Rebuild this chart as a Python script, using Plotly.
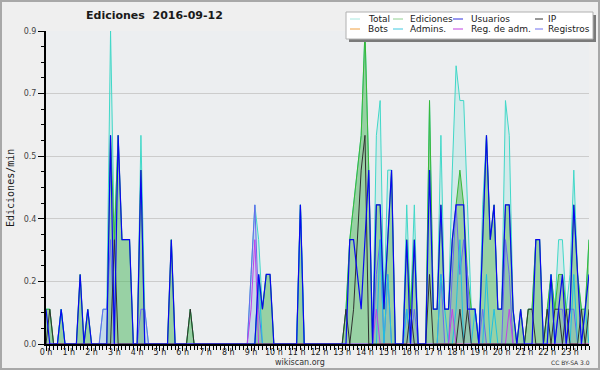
import plotly.graph_objects as go

# 10-minute bins (index = 6*hour + tenth), values in edits/min
total = [
    .1, .1, 0, 0, .1, 0,
    0, 0, 0, .2, 0, .1,
    0, 0, 0, .1, .1, .9,
    .3, .6, .3, .3, .3, 0,
    0, .6, .1, 0, 0, 0,
    0, 0, 0, .3, 0, 0,
    0, 0, .1, 0, 0, 0,
    0, 0, 0, 0, 0, 0,
    0, 0, 0, 0, 0, 0,
    .2, .4, .3, .1, .2, .2,
    0, 0, 0, 0, 0, 0,
    0, .4, 0, 0, 0, 0,
    0, 0, 0, 0, 0, 0,
    0, .1, .3, .4, .5, .6,
    .9, .5, 0, .6, .7, .1,
    .5, .5, 0, 0, 0, .4,
    .1, .4, 0, 0, 0, .7,
    .1, .1, .6, .1, .1, .5,
    .8, .7, .7, .4, .1, .1,
    0, .4, .6, .3, .4, .1,
    .1, .7, .6, .1, 0, .1,
    0, .1, .1, .3, .3, 0,
    .1, .2, .1, .3, .3, .1,
    .2, .5, .2, .1, .1, .3,
]
ediciones = [
    .1, .1, 0, 0, .1, 0,
    0, 0, 0, .2, 0, .1,
    0, 0, 0, 0, 0, .6,
    .3, .6, .3, .3, .3, 0,
    0, .5, 0, 0, 0, 0,
    0, 0, 0, .3, 0, 0,
    0, 0, .1, 0, 0, 0,
    0, 0, 0, 0, 0, 0,
    0, 0, 0, 0, 0, 0,
    0, 0, .2, .1, .2, .2,
    0, 0, 0, 0, 0, 0,
    0, .4, 0, 0, 0, 0,
    0, 0, 0, 0, 0, 0,
    0, .1, .3, .4, .5, .6,
    .9, .5, 0, .4, .4, .1,
    .3, .5, 0, 0, 0, .3,
    .1, .3, 0, 0, 0, .7,
    .1, .1, .4, .1, .1, .3,
    .4, .5, .4, .2, .1, .1,
    0, .3, .6, .3, .4, .1,
    .1, .4, .4, .1, 0, .1,
    0, .1, .1, .3, .3, 0,
    .1, .2, .1, .2, .2, .1,
    .1, .4, .2, .1, .1, .3,
]
usuarios = [
    .1, 0, 0, 0, .1, 0,
    0, 0, 0, .2, 0, .1,
    0, 0, 0, 0, 0, .6,
    0, .6, .3, .3, .3, 0,
    0, .5, 0, 0, 0, 0,
    0, 0, 0, .3, 0, 0,
    0, 0, 0, 0, 0, 0,
    0, 0, 0, 0, 0, 0,
    0, 0, 0, 0, 0, 0,
    0, 0, .2, .1, .2, .2,
    0, 0, 0, 0, 0, 0,
    0, .4, 0, 0, 0, 0,
    0, 0, 0, 0, 0, 0,
    0, 0, .3, .3, .2, .1,
    .3, .5, 0, .4, .4, .1,
    .3, .5, 0, 0, 0, .3,
    0, .3, 0, 0, 0, .5,
    .1, .1, .4, .1, .1, .3,
    .4, .4, .4, .1, .1, .1,
    0, .3, .6, .3, .4, .1,
    .1, .4, .4, .1, 0, .1,
    0, 0, 0, .3, .3, 0,
    0, .2, 0, .1, .2, 0,
    .1, .4, .2, 0, .1, .2,
]
ip = [
    0, .1, 0, 0, 0, 0,
    0, 0, 0, 0, 0, 0,
    0, 0, 0, 0, 0, 0,
    .3, 0, 0, 0, 0, 0,
    0, 0, 0, 0, 0, 0,
    0, 0, 0, 0, 0, 0,
    0, 0, .1, 0, 0, 0,
    0, 0, 0, 0, 0, 0,
    0, 0, 0, 0, 0, 0,
    0, 0, 0, 0, 0, 0,
    0, 0, 0, 0, 0, 0,
    0, 0, 0, 0, 0, 0,
    0, 0, 0, 0, 0, 0,
    0, .1, 0, .1, .3, .5,
    .6, 0, 0, 0, 0, 0,
    0, 0, 0, 0, 0, 0,
    .1, 0, 0, 0, 0, .2,
    0, 0, 0, 0, 0, 0,
    0, .1, 0, .1, 0, 0,
    0, 0, 0, 0, 0, 0,
    0, 0, 0, 0, 0, 0,
    0, .1, .1, 0, 0, 0,
    .1, 0, .1, .1, 0, .1,
    0, 0, 0, .1, 0, .1,
]
bots = [0] * 144
admins = [
    0, 0, 0, 0, .1, 0,
    0, 0, 0, 0, 0, 0,
    0, 0, 0, 0, 0, 0,
    0, 0, 0, 0, 0, 0,
    0, 0, 0, 0, 0, 0,
    0, 0, 0, 0, 0, 0,
    0, 0, 0, 0, 0, 0,
    0, 0, 0, 0, 0, 0,
    0, 0, 0, 0, 0, 0,
    0, 0, .2, 0, 0, 0,
    0, 0, 0, 0, 0, 0,
    0, .4, 0, 0, 0, 0,
    0, 0, 0, 0, 0, 0,
    0, 0, 0, 0, 0, 0,
    0, 0, 0, 0, .3, 0,
    .2, 0, 0, 0, 0, .1,
    0, 0, 0, 0, 0, 0,
    0, 0, .2, .1, 0, 0,
    .1, .3, 0, 0, 0, .1,
    0, 0, .2, 0, .1, 0,
    0, 0, 0, 0, 0, 0,
    0, 0, 0, 0, 0, 0,
    0, .2, 0, 0, 0, 0,
    0, .2, 0, 0, .1, 0,
]
reg_adm = [
    0, 0, 0, 0, 0, 0,
    0, 0, 0, 0, 0, 0,
    0, 0, 0, 0, 0, 0,
    0, 0, 0, 0, 0, 0,
    0, 0, 0, 0, 0, 0,
    0, 0, 0, 0, 0, 0,
    0, 0, 0, 0, 0, 0,
    0, 0, 0, 0, 0, 0,
    0, 0, 0, 0, 0, 0,
    .1, .3, 0, 0, 0, 0,
    0, 0, 0, 0, 0, 0,
    0, 0, 0, 0, 0, 0,
    0, 0, 0, 0, 0, 0,
    0, 0, 0, 0, 0, 0,
    0, 0, 0, .1, 0, 0,
    0, 0, 0, 0, 0, 0,
    0, 0, 0, 0, 0, 0,
    0, 0, 0, 0, 0, .1,
    0, 0, 0, 0, 0, 0,
    0, 0, 0, 0, 0, 0,
    0, 0, .1, 0, 0, 0,
    0, 0, 0, 0, 0, 0,
    0, 0, 0, 0, 0, 0,
    0, 0, 0, 0, 0, 0,
]
registros = [
    0, 0, 0, 0, 0, 0,
    0, 0, 0, 0, 0, 0,
    0, 0, 0, .1, .1, .3,
    0, 0, 0, 0, 0, 0,
    0, .1, .1, 0, 0, 0,
    0, 0, 0, 0, 0, 0,
    0, 0, 0, 0, 0, 0,
    0, 0, 0, 0, 0, 0,
    0, 0, 0, 0, 0, 0,
    .2, .4, .1, 0, 0, 0,
    0, 0, 0, 0, 0, 0,
    0, 0, 0, 0, 0, 0,
    0, 0, 0, 0, 0, 0,
    0, 0, 0, 0, 0, 0,
    0, 0, 0, .2, .3, 0,
    .2, 0, 0, 0, 0, .1,
    0, .1, 0, 0, 0, 0,
    0, 0, .2, 0, 0, .2,
    .4, .2, .3, .2, 0, 0,
    0, .1, 0, 0, 0, 0,
    0, .3, .2, 0, 0, 0,
    0, 0, 0, 0, 0, 0,
    0, 0, 0, .1, .1, 0,
    .1, .1, 0, 0, 0, 0,
]
hours = [i / 6 for i in range(144)]
hour_ticks = list(range(24))
hour_labels = [f"{h} h" for h in hour_ticks]
y_ticks = [0, 0.18, 0.36, 0.54, 0.72, 0.9]
y_labels = ["0.0", "0.2", "0.4", "0.5", "0.7", "0.9"]

legend_names = ["Total", "Ediciones", "Usuarios", "IP", "Bots", "Admins.", "Reg. de adm.", "Registros"]
legend_colors = ["#a8e8e0", "#90d090", "#3030e0", "#303030", "#f0a040", "#40c8e0", "#c040e0", "#7070f0"]

fig = go.Figure()
fig.add_trace(go.Scatter(x=hours, y=total, mode="lines", fill="tozeroy",
                         fillcolor="rgba(64,216,200,0.14)", line=dict(color="#40d8c8", width=1), name="Total"))
fig.add_trace(go.Scatter(x=hours, y=ediciones, mode="lines", fill="tozeroy",
                         fillcolor="rgba(80,180,80,0.45)", line=dict(color="#38b838", width=1), name="Ediciones"))
fig.add_trace(go.Scatter(x=hours, y=registros, mode="lines", fill="tozeroy",
                         fillcolor="rgba(100,110,240,0.12)", line=dict(color="#6868f0", width=1), name="Registros"))
fig.add_trace(go.Scatter(x=hours, y=bots, mode="lines", line=dict(color="#f0a040", width=1), name="Bots"))
fig.add_trace(go.Scatter(x=hours, y=admins, mode="lines", line=dict(color="#20c0e0", width=1), name="Admins."))
fig.add_trace(go.Scatter(x=hours, y=reg_adm, mode="lines", line=dict(color="#c040e8", width=1), name="Reg. de adm."))
fig.add_trace(go.Scatter(x=hours, y=ip, mode="lines", line=dict(color="#303030", width=1), name="IP"))
fig.add_trace(go.Scatter(x=hours, y=usuarios, mode="lines", line=dict(color="#0808f0", width=1.2), name="Usuarios"))

X0, X1, YT, YB = 46, 589, 31, 344
def px(x):
    return (x - X0) / (X1 - X0)
def py(y):
    return (YB - y) / (YB - YT)

shapes = [
    dict(type="rect", xref="paper", yref="paper", x0=px(1), x1=px(599), y0=py(369), y1=py(1),
         line=dict(color="#a8a8a8", width=2), layer="below"),
    dict(type="rect", xref="paper", yref="paper", x0=px(349), x1=px(596), y0=py(42), y1=py(15),
         fillcolor="#7a7a7a", line=dict(width=0)),
    dict(type="rect", xref="paper", yref="paper", x0=px(346), x1=px(593), y0=py(39), y1=py(12),
         fillcolor="white", line=dict(color="#b0b0b0", width=1)),
]
annotations = [
    dict(text="<b>Ediciones\u00a0 2016-09-12</b>", x=px(154), y=py(16), xref="paper", yref="paper",
         showarrow=False, font=dict(family="DejaVu Sans", size=11, color="#1a1a1a"), xanchor="center", yanchor="middle"),
    dict(text="Ediciones/min", x=px(10), y=py(188), xref="paper", yref="paper", textangle=-90,
         showarrow=False, font=dict(family="DejaVu Sans Mono", size=10, color="#1a1a1a"), xanchor="center", yanchor="middle"),
    dict(text="wikiscan.org", x=px(300), y=py(362), xref="paper", yref="paper",
         showarrow=False, font=dict(family="DejaVu Sans", size=8, color="#333"), xanchor="center", yanchor="middle"),
    dict(text="CC BY-SA 3.0", x=px(570), y=py(362), xref="paper", yref="paper",
         showarrow=False, font=dict(family="DejaVu Sans", size=6, color="#333"), xanchor="center", yanchor="middle"),
]
cols = [(350, 360, 366), (393, 403, 408), (453, 463, 469), (535, 543, 546)]
rows = [19, 29]
for k, (name, col) in enumerate(zip(legend_names, legend_colors)):
    r, c = divmod(k, 4)
    sx0, sx1, tx = cols[c]
    yy = rows[r]
    shapes.append(dict(type="line", xref="paper", yref="paper", x0=px(sx0), x1=px(sx1), y0=py(yy), y1=py(yy),
                       line=dict(color=col, width=1)))
    annotations.append(dict(text=name, x=px(tx), y=py(yy), xref="paper", yref="paper", showarrow=False,
                            font=dict(family="DejaVu Sans", size=9, color="#1a1a1a"), xanchor="left", yanchor="middle"))

fig.update_layout(
    width=600, height=370,
    margin=dict(l=X0, r=600 - X1, t=YT, b=370 - YB, pad=0),
    paper_bgcolor="#efefef", plot_bgcolor="#eceef0",
    showlegend=False, shapes=shapes, annotations=annotations,
)
fig.update_xaxes(range=[0, 143 / 6], tickmode="array", tickvals=hour_ticks, ticktext=hour_labels,
                 ticks="outside", ticklen=5, tickwidth=1, tickcolor="black", automargin=False,
                 ticklabelstandoff=-6,
                 showline=True, linecolor="black", linewidth=2, showgrid=False, zeroline=False,
                 tickfont=dict(family="DejaVu Sans", size=8, color="#222"),
                 minor=dict(tickmode="linear", tick0=0, dtick=1 / 6, ticks="outside", ticklen=4,
                            tickwidth=1, tickcolor="black", showgrid=False))
fig.update_yaxes(range=[0, 0.9], tickmode="array", tickvals=y_ticks, ticktext=y_labels,
                 ticks="outside", ticklen=6, tickwidth=1, tickcolor="black", automargin=False,
                 showline=True, linecolor="black", linewidth=2, showgrid=True, gridcolor="#cccccc",
                 gridwidth=1, zeroline=False,
                 tickfont=dict(family="DejaVu Sans", size=8, color="#444"),
                 minor=dict(tickmode="linear", tick0=0, dtick=0.045, ticks="outside", ticklen=3,
                            tickwidth=1, tickcolor="black", showgrid=False))

fig.write_html(
    "out.html", config={"displayModeBar": False},
    post_script=(
        "document.documentElement.style.overflow='hidden';"
        "document.documentElement.style.margin='0';"
        "document.body.style.margin='0';document.body.style.padding='0';"
        "document.body.style.overflow='hidden';document.body.style.height='370px';"
    ),
)
